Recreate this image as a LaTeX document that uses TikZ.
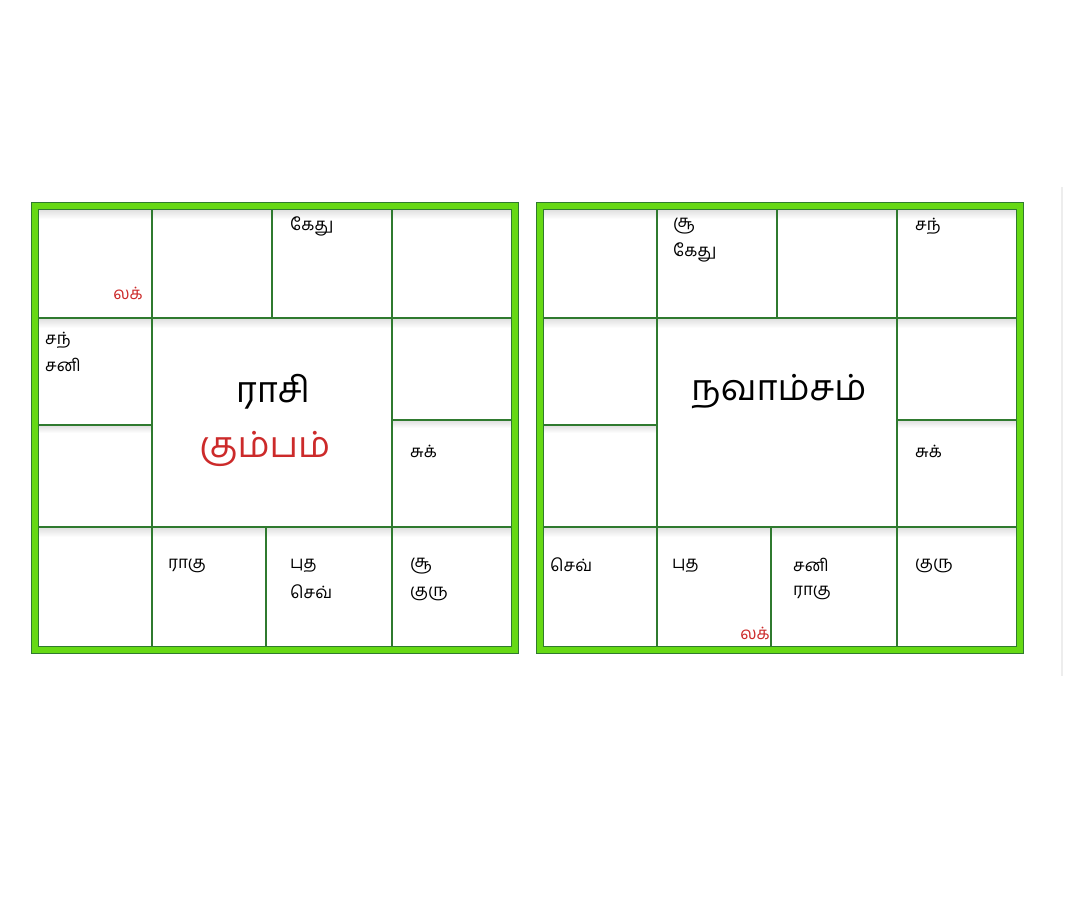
\documentclass[tikz,border=0pt]{standalone}
\usepackage{fontspec}
\newfontfamily\tamil[Script=Tamil]{Hind Madurai}
\usetikzlibrary{positioning}
\definecolor{framegreen}{HTML}{66D914}
\definecolor{linegreen}{HTML}{2F7A2F}
\definecolor{lagnared}{HTML}{CC2A2A}
\tikzset{
  grah/.style={anchor=west,inner sep=0pt,font=\tamil\fontsize{17}{20}\selectfont},
  lagna/.style={grah,anchor=east,text=lagnared},
  chartname/.style={inner sep=0pt,font=\tamil\fontsize{36}{40}\selectfont},
  cellline/.style={linegreen,line width=1.3pt},
  bandline/.style={linegreen,line width=1pt},
  cellshade/.style={top color=black!13,bottom color=white},
}
\begin{document}
\begin{tikzpicture}[x=1pt,y=-1pt]
\useasboundingbox (0,0) rectangle (1080,903);
% ---- faint divider at right edge ----
\draw[black!7,line width=1.5pt] (1062,187) -- (1062,676);
% ---- Rasi chart (left) ----
\shade[cellshade] (38,209) rectangle (511,219);
\shade[cellshade] (38,318) rectangle (511,328);
\shade[cellshade] (38,527) rectangle (511,537);
\shade[cellshade] (38,425) rectangle (152,433);
\shade[cellshade] (392,420) rectangle (511,428);
\draw[framegreen,line width=7pt] (34.5,205.5) rectangle (514.5,649.5);
\draw[bandline] (31,202) rectangle (518,653);
\draw[bandline] (38,209) rectangle (511,646);
\draw[cellline] (38,318) -- (511,318);
\draw[cellline] (38,527) -- (511,527);
\draw[cellline] (152,209) -- (152,646);
\draw[cellline] (392,209) -- (392,646);
\draw[cellline] (272,209) -- (272,318);
\draw[cellline] (266,527) -- (266,646);
\draw[cellline] (38,425) -- (152,425);
\draw[cellline] (392,420) -- (511,420);
\node[lagna] (rlag) at (143,293) {லக்};
\node[grah] (rketu) at (290,226) {கேது};
\node[grah] (rchan) at (45,340) {சந்};
\node[grah] (rsani) at (45,365) {சனி};
\node[chartname] (rname) at (273,392) {ராசி};
\node[chartname,text=lagnared] (rsign) at (265,449) {கும்பம்};
\node[grah] (rsuk) at (410,451) {சுக்};
\node[grah] (rrahu) at (168,566) {ராகு};
\node[grah] (rbud) at (290,566) {புத};
\node[grah] (rsev) at (290,592) {செவ்};
\node[grah] (rsur) at (410,566) {சூ};
\node[grah] (rguru) at (410,594) {குரு};
% ---- Navamsam chart (right) ----
\shade[cellshade] (543,209) rectangle (1016,219);
\shade[cellshade] (543,318) rectangle (1016,328);
\shade[cellshade] (543,527) rectangle (1016,537);
\shade[cellshade] (543,425) rectangle (657,433);
\shade[cellshade] (897,420) rectangle (1016,428);
\draw[framegreen,line width=7pt] (539.5,205.5) rectangle (1019.5,649.5);
\draw[bandline] (536,202) rectangle (1023,653);
\draw[bandline] (543,209) rectangle (1016,646);
\draw[cellline] (543,318) -- (1016,318);
\draw[cellline] (543,527) -- (1016,527);
\draw[cellline] (657,209) -- (657,646);
\draw[cellline] (897,209) -- (897,646);
\draw[cellline] (777,209) -- (777,318);
\draw[cellline] (771,527) -- (771,646);
\draw[cellline] (543,425) -- (657,425);
\draw[cellline] (897,420) -- (1016,420);
\node[grah] (nsur) at (673,226) {சூ};
\node[grah] (nketu) at (673,252) {கேது};
\node[grah] (nchan) at (915,226) {சந்};
\node[chartname] (nname) at (779,392) {நவாம்சம்};
\node[grah] (nsuk) at (915,451) {சுக்};
\node[grah] (nsev) at (550,565) {செவ்};
\node[grah] (nbud) at (672,566) {புத};
\node[lagna] (nlag) at (770,633) {லக்};
\node[grah] (nsani) at (793,565) {சனி};
\node[grah] (nrahu) at (793,593) {ராகு};
\node[grah] (nguru) at (915,566) {குரு};
\end{tikzpicture}
\end{document}
